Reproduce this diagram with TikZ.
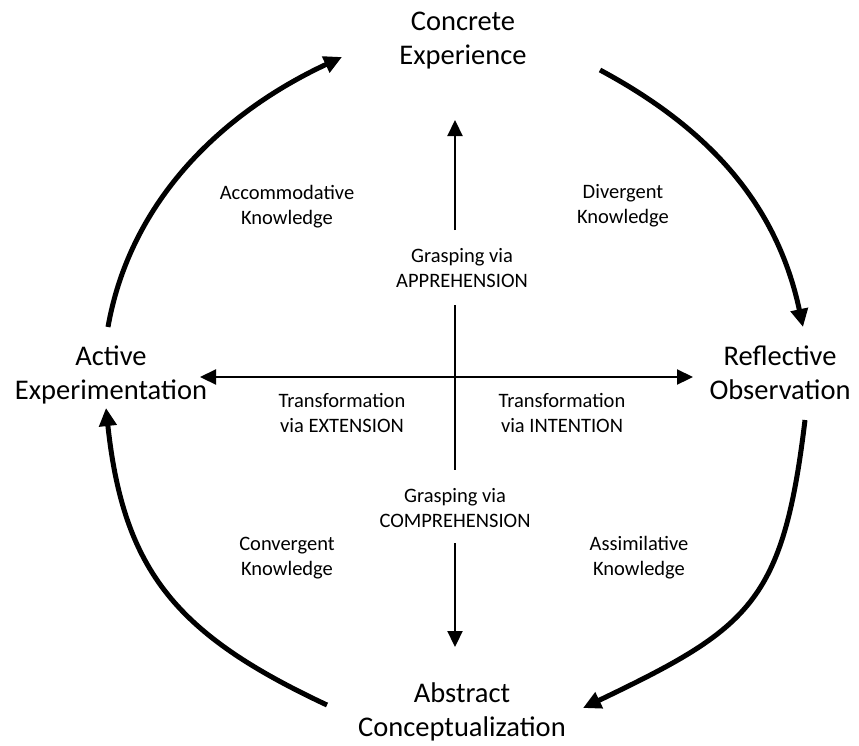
\documentclass[tikz,border=0pt]{standalone}
\usepackage{fontspec}
\setmainfont{Carlito}
\usetikzlibrary{arrows.meta}
\newcommand{\twoline}[2]{\begin{tabular}[t]{@{}c@{}}#1\\#2\end{tabular}}
\tikzset{
  big/.style={font=\fontsize{28.5}{34.5}\selectfont, anchor=base, inner sep=0pt},
  small/.style={font=\fontsize{20.5}{25.5}\selectfont, anchor=base, inner sep=0pt},
  cyclearc/.style={line width=5pt, -{Triangle[length=18pt,width=17pt]}},
  axisarrow/.style={line width=2.2pt, -{Triangle[length=16pt,width=15pt]}},
  axisline/.style={line width=2.2pt},
}
\begin{document}
\begin{tikzpicture}[x=1pt,y=-1pt]
\useasboundingbox (0,0) rectangle (859,745);
% main stage labels
\node[big] (CE) at (463,30) {\twoline{Concrete}{Experience}};
\node[big] (RO) at (780,365) {\twoline{Reflective}{Observation}};
\node[big] (AE) at (111,365) {\twoline{Active}{Experimentation}};
\node[big] (AC) at (462,702) {\twoline{Abstract}{Conceptualization}};
% knowledge labels
\node[small] (acc) at (287,199) {\twoline{Accommodative}{Knowledge}};
\node[small] (div) at (623,198) {\twoline{Divergent}{Knowledge}};
\node[small] (con) at (287,550) {\twoline{Convergent}{Knowledge}};
\node[small] (ass) at (639,550) {\twoline{Assimilative}{Knowledge}};
% axis labels
\node[small] (gapp) at (462,262) {\twoline{Grasping via}{APPREHENSION}};
\node[small] (gcom) at (455,502) {\twoline{Grasping via}{COMPREHENSION}};
\node[small] (text) at (342,407) {\twoline{Transformation}{via EXTENSION}};
\node[small] (tint) at (562,407) {\twoline{Transformation}{via INTENTION}};
% arc end points
\coordinate (a1s) at (108,327);
\coordinate (a1e) at (342,57);
\coordinate (a2s) at (600,70);
\coordinate (a2e) at (803,327);
\coordinate (a3s) at (805,420);
\coordinate (a3e) at (583,708);
\coordinate (a4s) at (327,705);
\coordinate (a4e) at (106,408);
% cycle arcs
\draw[cyclearc] (a1s) .. controls (130.6,199) and (224,112) .. (a1e);
\draw[cyclearc] (a2s) .. controls (710,129) and (777,205) .. (a2e);
\draw[cyclearc] (a3s) .. controls (783,603) and (750,628) .. (a3e);
\draw[cyclearc] (a4s) .. controls (177.5,635) and (123.5,572) .. (a4e);
% axes
\coordinate (vtop) at (455,120);
\coordinate (va) at (455,230);
\coordinate (vb) at (455,305);
\coordinate (vc) at (455,470);
\coordinate (vd) at (455,543);
\coordinate (vbot) at (455,647);
\coordinate (hl) at (200,377);
\coordinate (hr) at (693,377);
\draw[axisarrow] (va) -- (vtop);
\draw[axisline] (vb) -- (vc);
\draw[axisarrow] (vd) -- (vbot);
\draw[axisline, {Triangle[length=16pt,width=15pt]}-{Triangle[length=16pt,width=15pt]}] (hl) -- (hr);
\end{tikzpicture}
\end{document}
